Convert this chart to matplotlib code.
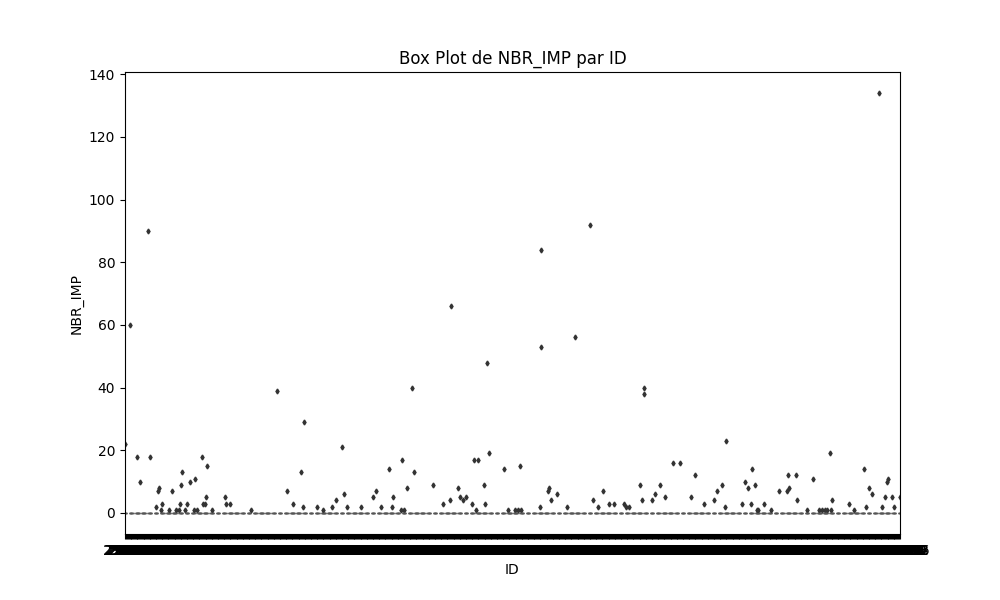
import matplotlib

matplotlib.use("Agg")
import matplotlib.pyplot as plt
import pandas as pd
import seaborn as sns

# 900 identifiants (étiquettes illisibles, elles se chevauchent sur l'axe)
ids = list(range(21000, 1221000, 1334))

# la plupart des valeurs valent 0 : la boîte s'écrase sur 0
n_zero = 10

# valeurs aberrantes : position de l'ID et valeur
flier_idx = [0, 5, 14, 17, 26, 29, 35, 38, 39, 41, 42, 51, 54, 59, 62, 63, 65, 66,
             69, 71, 75, 80, 81, 83, 89, 90, 92, 93, 95, 101, 116, 117, 122, 146, 176,
             188, 195, 204, 206, 207, 222, 230, 240, 245, 251, 254, 257, 273, 288,
             291, 297, 306, 309, 311, 320, 321, 323, 327, 333, 335, 357, 369, 377,
             378, 386, 389, 392, 395, 402, 405, 407, 410, 416, 417, 420, 422, 440,
             444, 452, 456, 458, 459, 482, 483, 483, 491, 492, 494, 501, 513, 522,
             540, 543, 549, 555, 561, 567, 579, 581, 585, 597, 600, 602, 602, 612,
             615, 621, 627, 636, 644, 657, 662, 672, 683, 687, 693, 696, 698, 716,
             719, 723, 726, 728, 731, 734, 735, 741, 750, 759, 768, 770, 771, 779,
             780, 791, 798, 806, 809, 812, 815, 818, 819, 821, 840, 846, 858, 860,
             863, 867, 875, 879, 882, 884, 885, 890, 893, 899]
flier_val = [22, 60, 18, 10, 90, 18, 2, 7, 8, 1, 3, 1, 7, 1, 1, 3, 9, 13,
             1, 3, 10, 1, 11, 1, 18, 3, 3, 5, 15, 1, 5, 3, 3, 1, 39,
             7, 3, 13, 2, 29, 2, 1, 2, 4, 21, 6, 2, 2, 5,
             7, 2, 14, 2, 5, 1, 17, 1, 8, 40, 13, 9, 3, 4,
             66, 8, 5, 4, 5, 3, 17, 1, 17, 9, 3, 48, 19, 14,
             1, 1, 1, 15, 1, 2, 84, 53, 7, 8, 4, 6, 2, 56,
             92, 4, 2, 7, 3, 3, 3, 2, 2, 9, 4, 40, 38, 4,
             6, 9, 5, 16, 16, 5, 12, 3, 4, 7, 9, 2, 23, 3,
             10, 8, 3, 14, 9, 1, 1, 3, 1, 7, 7, 12, 8, 12,
             4, 1, 11, 1, 1, 1, 1, 19, 1, 4, 3, 1, 14, 2,
             8, 6, 134, 2, 5, 10, 11, 5, 2, 5]

rows = []
for i in ids:
    rows += [(i, 0)] * n_zero
for k, v in zip(flier_idx, flier_val):
    rows.append((ids[k], v))
df = pd.DataFrame(rows, columns=["ID", "NBR_IMP"])

fig, ax = plt.subplots(figsize=(10, 6))
sns.boxplot(
    data=df, x="ID", y="NBR_IMP", ax=ax,
    linecolor="#555555",
    flierprops={"marker": "d", "markersize": 2.5,
                "markerfacecolor": "#333333", "markeredgecolor": "#333333"},
)
ax.set_title("Box Plot de NBR_IMP par ID")

fig.savefig("out.png", dpi=100)
